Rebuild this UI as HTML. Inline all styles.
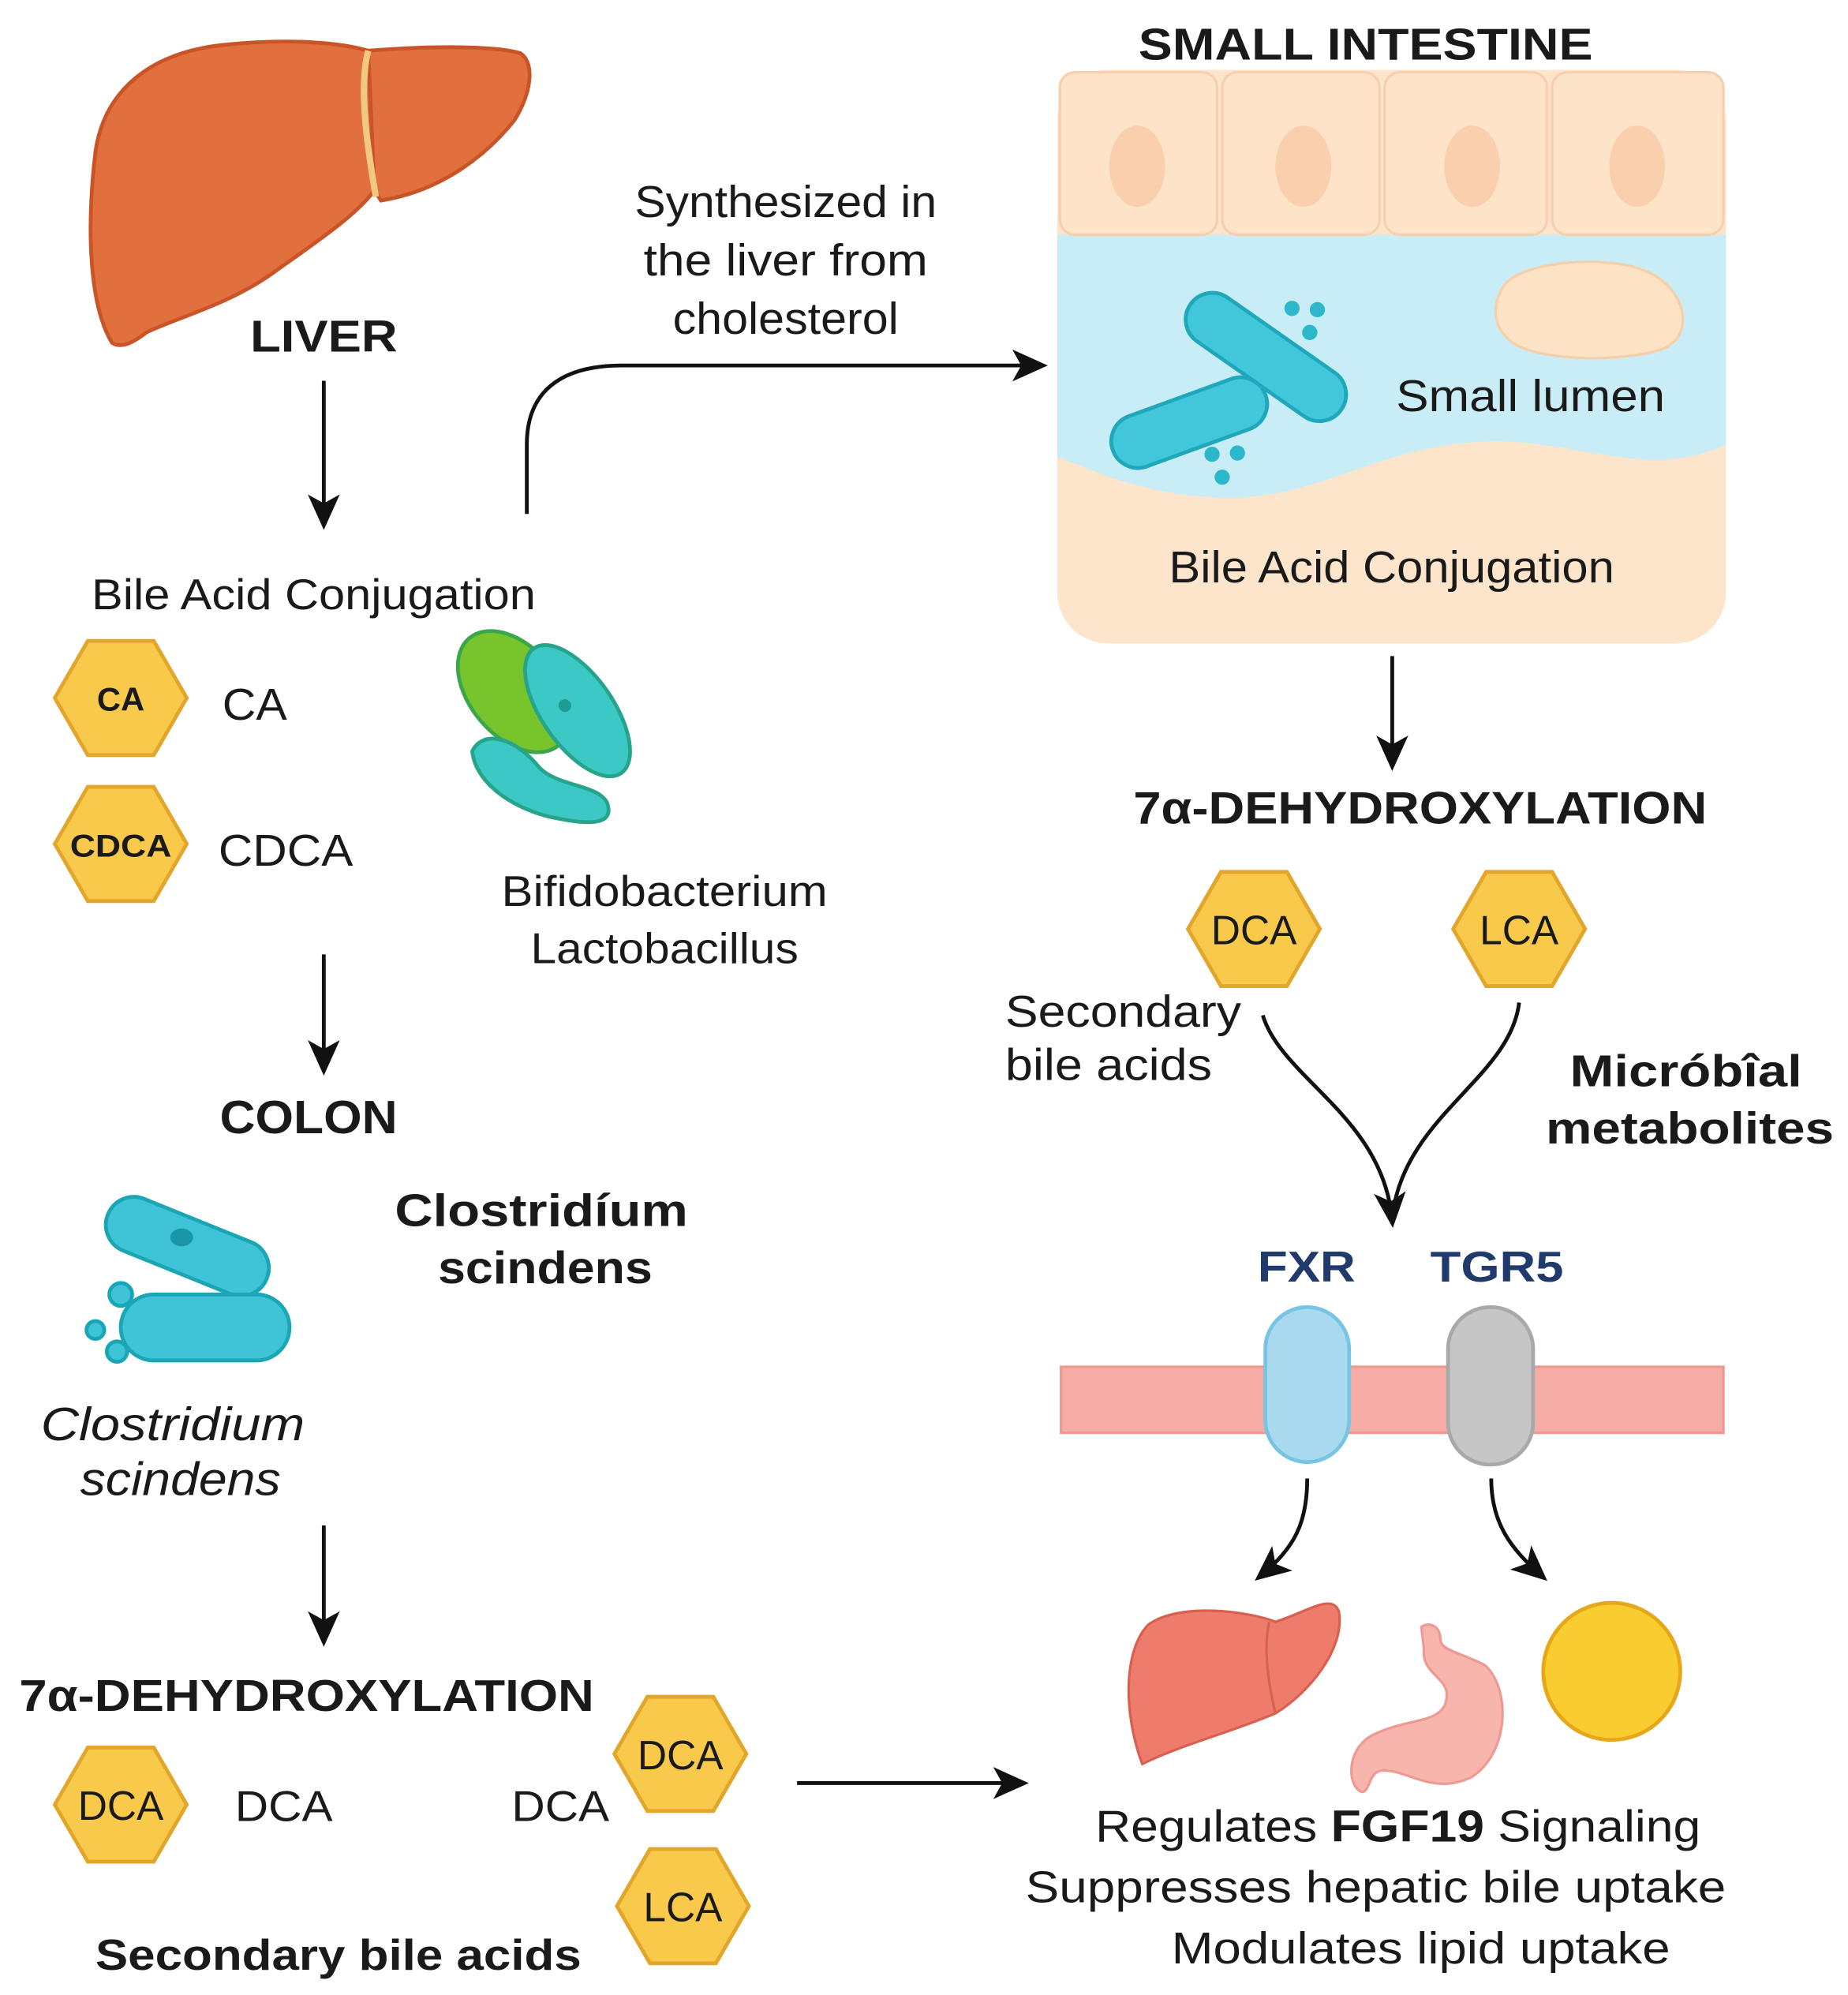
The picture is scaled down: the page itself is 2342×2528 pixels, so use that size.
<!DOCTYPE html>
<html><head><meta charset="utf-8"><style>
html,body{margin:0;padding:0;background:#fff}
svg{display:block}
text{font-family:"Liberation Sans",sans-serif;fill:#1a1a1a}
.b{font-weight:bold}
</style></head><body>
<svg width="2342" height="2528" viewBox="0 0 1456 1572" xmlns="http://www.w3.org/2000/svg">
<defs>
<marker id="ah" viewBox="0 0 10 10" refX="8" refY="5" markerWidth="28" markerHeight="28" orient="auto-start-reverse" markerUnits="userSpaceOnUse" style="overflow:visible">
<path d="M0,0.5 L10,5 L0,9.5 L2.5,5 Z" fill="#111"/></marker>
<g id="hex"><polygon points="-52,0 -26,-45 26,-45 52,0 26,45 -26,45" fill="#F8C94A" stroke="#E3A62C" stroke-width="3"/></g>
</defs>
<rect width="1456" height="1572" fill="#fff"/>

<!-- Big liver -->
<path d="M88,270 C70,240 68,180 75,120 C82,70 120,40 180,35 C230,30 270,34 290,40 L295,150 C280,170 250,190 215,215 C180,240 140,250 115,262 C105,270 95,275 88,270 Z" fill="#E2703F" stroke="#C95427" stroke-width="3"/>
<path d="M290,40 C340,36 390,36 410,42 C422,50 418,75 405,95 C385,120 350,150 300,158 L295,150 Z" fill="#E2703F" stroke="#C95427" stroke-width="3"/>
<path d="M290,40 C282,70 290,120 296,155" stroke="#F3C982" stroke-width="5" fill="none"/>
<text x="197" y="277" font-size="35" class="b" textLength="116" lengthAdjust="spacingAndGlyphs">LIVER</text>

<line x1="255" y1="300" x2="255" y2="412" stroke="#111" stroke-width="3" marker-end="url(#ah)"/>
<text x="72" y="480" font-size="34" fill="#333" textLength="350" lengthAdjust="spacingAndGlyphs">Bile Acid Conjugation</text>

<use href="#hex" x="95" y="550"/><text x="95" y="560" font-size="26" class="b" text-anchor="middle">CA</text>
<text x="175" y="567" font-size="35" textLength="51" lengthAdjust="spacingAndGlyphs">CA</text>
<use href="#hex" x="95" y="665"/><text x="95" y="675" font-size="25" class="b" text-anchor="middle" textLength="80" lengthAdjust="spacingAndGlyphs">CDCA</text>
<text x="172" y="682" font-size="35" textLength="106" lengthAdjust="spacingAndGlyphs">CDCA</text>

<!-- bifido bacteria -->
<g stroke-width="3">
<ellipse cx="405" cy="545" rx="35" ry="55" transform="rotate(-40 405 545)" fill="#78C42C" stroke="#3CA64A"/>
<ellipse cx="455" cy="560" rx="28" ry="60" transform="rotate(-35 455 560)" fill="#3CC8C4" stroke="#26A58A"/>
<path d="M372,592 C380,575 405,580 425,605 C440,620 470,618 478,632 C485,650 465,650 440,645 C410,640 375,620 372,592 Z" fill="#3CC8C4" stroke="#26A58A"/>
<circle cx="445" cy="556" r="5" fill="#1E9C94" stroke="none"/>
</g>
<text x="395" y="714" font-size="34" fill="#333" textLength="257" lengthAdjust="spacingAndGlyphs">Bifidobacterium</text>
<text x="418" y="759" font-size="34" fill="#333" textLength="211" lengthAdjust="spacingAndGlyphs">Lactobacillus</text>

<line x1="255" y1="752" x2="255" y2="842" stroke="#111" stroke-width="3" marker-end="url(#ah)"/>
<text x="173" y="893" font-size="37" class="b" textLength="140" lengthAdjust="spacingAndGlyphs">COLON</text>
<text x="311" y="966" font-size="36" class="b" textLength="231" lengthAdjust="spacingAndGlyphs">Clostridíum</text>
<text x="345" y="1011" font-size="36" class="b" textLength="169" lengthAdjust="spacingAndGlyphs">scindens</text>

<!-- colon bacteria -->
<g stroke="#1AA6B5" stroke-width="3" fill="#3EC4D6">
<rect x="80" y="960" width="135" height="44" rx="22" transform="rotate(22 147 982)"/>
<rect x="95" y="1020" width="133" height="52" rx="26"/>
<circle cx="95" cy="1020" r="9"/><circle cx="75" cy="1048" r="7"/><circle cx="92" cy="1065" r="8"/>
</g>
<ellipse cx="143" cy="975" rx="9" ry="7" fill="#1A96A8"/>
<text x="32" y="1135" font-size="37" font-style="italic" fill="#222" textLength="208" lengthAdjust="spacingAndGlyphs">Clostridium</text>
<text x="63" y="1178" font-size="37" font-style="italic" fill="#222" textLength="158" lengthAdjust="spacingAndGlyphs">scindens</text>

<line x1="255" y1="1202" x2="255" y2="1292" stroke="#111" stroke-width="3" marker-end="url(#ah)"/>
<text x="15" y="1348" font-size="35" class="b" textLength="453" lengthAdjust="spacingAndGlyphs">7α-DEHYDROXYLATION</text>
<use href="#hex" x="95" y="1422"/><text x="95" y="1434" font-size="32" text-anchor="middle">DCA</text>
<text x="185" y="1435" font-size="34" textLength="77" lengthAdjust="spacingAndGlyphs">DCA</text>
<text x="403" y="1435" font-size="34" textLength="77" lengthAdjust="spacingAndGlyphs">DCA</text>
<use href="#hex" x="536" y="1382"/><text x="536" y="1394" font-size="32" text-anchor="middle">DCA</text>
<use href="#hex" x="538" y="1502"/><text x="538" y="1514" font-size="32" text-anchor="middle">LCA</text>
<text x="75" y="1552" font-size="34" class="b" textLength="383" lengthAdjust="spacingAndGlyphs">Secondary bile acids</text>
<line x1="628" y1="1405" x2="805" y2="1405" stroke="#111" stroke-width="3" marker-end="url(#ah)"/>

<!-- curved arrow -->
<path d="M415,405 L415,350 C415,310 440,288 490,288 L820,288" fill="none" stroke="#111" stroke-width="3" marker-end="url(#ah)"/>
<text x="500" y="171" font-size="35" fill="#222" textLength="238" lengthAdjust="spacingAndGlyphs">Synthesized in</text>
<text x="507" y="217" font-size="35" fill="#222" textLength="224" lengthAdjust="spacingAndGlyphs">the liver from</text>
<text x="530" y="263" font-size="35" fill="#222" textLength="178" lengthAdjust="spacingAndGlyphs">cholesterol</text>

<!-- small intestine -->
<text x="897" y="47" font-size="35" class="b" textLength="358" lengthAdjust="spacingAndGlyphs">SMALL INTESTINE</text>
<rect x="833" y="55" width="527" height="452" rx="40" fill="#FDE5CC"/>
<path d="M833,185 L1360,185 L1360,350 C1300,380 1240,345 1170,348 C1080,352 1040,395 960,392 C900,390 860,370 833,360 Z" fill="#C8EDF6"/>
<g fill="#FDE3C8" stroke="#F7CFAE" stroke-width="2">
<rect x="835" y="57" width="124" height="128" rx="12"/>
<rect x="963" y="57" width="124" height="128" rx="12"/>
<rect x="1091" y="57" width="128" height="128" rx="12"/>
<rect x="1223" y="57" width="135" height="128" rx="12"/>
</g>
<g fill="#F9CFAE"><ellipse cx="896" cy="131" rx="22" ry="32"/><ellipse cx="1027" cy="131" rx="22" ry="32"/><ellipse cx="1160" cy="131" rx="22" ry="32"/><ellipse cx="1290" cy="131" rx="22" ry="32"/></g>
<path d="M1185,225 C1200,205 1270,200 1300,215 C1330,230 1335,265 1310,275 C1280,285 1220,285 1195,272 C1175,260 1175,240 1185,225 Z" fill="#FCE3C6" stroke="#F6CFA8" stroke-width="2"/>
<g fill="#42C6DA" stroke="#1FA7BC" stroke-width="3">
<rect x="925" y="260" width="145" height="42" rx="21" transform="rotate(35 997 281)"/>
<rect x="873" y="312" width="128" height="42" rx="21" transform="rotate(-20 937 333)"/>
</g>
<g fill="#2DB7CB"><circle cx="1018" cy="243" r="6"/><circle cx="1038" cy="244" r="6"/><circle cx="1032" cy="262" r="6"/><circle cx="955" cy="358" r="6"/><circle cx="975" cy="357" r="6"/><circle cx="963" cy="376" r="6"/></g>
<text x="1100" y="324" font-size="35" textLength="212" lengthAdjust="spacingAndGlyphs">Small lumen</text>
<text x="921" y="459" font-size="35" fill="#222" textLength="351" lengthAdjust="spacingAndGlyphs">Bile Acid Conjugation</text>

<line x1="1097" y1="517" x2="1097" y2="602" stroke="#111" stroke-width="3" marker-end="url(#ah)"/>
<text x="893" y="649" font-size="36" class="b" textLength="452" lengthAdjust="spacingAndGlyphs">7α-DEHYDROXYLATION</text>
<use href="#hex" x="988" y="732"/><text x="988" y="744" font-size="32" text-anchor="middle">DCA</text>
<use href="#hex" x="1197" y="732"/><text x="1197" y="744" font-size="32" text-anchor="middle">LCA</text>
<text x="792" y="809" font-size="35" fill="#222" textLength="186" lengthAdjust="spacingAndGlyphs">Secondary</text>
<text x="792" y="851" font-size="35" fill="#222" textLength="163" lengthAdjust="spacingAndGlyphs">bile acids</text>
<path d="M995,800 C1010,850 1090,880 1097,962" fill="none" stroke="#111" stroke-width="3" marker-end="url(#ah)"/>
<path d="M1197,790 C1190,850 1105,880 1097,960" fill="none" stroke="#111" stroke-width="3"/>
<text x="1237" y="856" font-size="35" class="b" textLength="183" lengthAdjust="spacingAndGlyphs">Micróbîal</text>
<text x="1218" y="901" font-size="35" class="b" textLength="227" lengthAdjust="spacingAndGlyphs">metabolites</text>

<text x="991" y="1010" font-size="34" class="b" style="fill:#1F3A6B" textLength="77" lengthAdjust="spacingAndGlyphs">FXR</text>
<text x="1127" y="1010" font-size="34" class="b" style="fill:#1F3A6B" textLength="105" lengthAdjust="spacingAndGlyphs">TGR5</text>
<rect x="836" y="1077" width="522" height="52" fill="#F5ACA6" stroke="#EE9890" stroke-width="2"/>
<rect x="997" y="1030" width="66" height="122" rx="33" fill="#A9D9EF" stroke="#78C4E4" stroke-width="3"/>
<rect x="1141" y="1030" width="67" height="124" rx="33" fill="#C6C6C6" stroke="#A9A9A9" stroke-width="3"/>
<path d="M1030,1165 C1030,1200 1020,1220 993,1242" fill="none" stroke="#111" stroke-width="3" marker-end="url(#ah)"/>
<path d="M1175,1165 C1175,1200 1190,1220 1215,1242" fill="none" stroke="#111" stroke-width="3" marker-end="url(#ah)"/>

<!-- organs -->
<path d="M900,1390 C885,1350 885,1300 905,1280 C930,1262 985,1270 1005,1278 C1030,1270 1050,1255 1055,1270 C1060,1300 1030,1335 1005,1350 C970,1365 930,1375 900,1390 Z" fill="#EE7C6C" stroke="#D9604F" stroke-width="2"/>
<path d="M1000,1278 C995,1300 1000,1330 1005,1350" stroke="#D9604F" stroke-width="2" fill="none"/>
<path d="M1120,1282 C1125,1278 1135,1280 1135,1292 C1135,1300 1150,1302 1170,1312 C1190,1330 1190,1380 1160,1400 C1130,1415 1110,1395 1090,1395 C1078,1395 1080,1412 1073,1412 C1062,1408 1060,1380 1080,1368 C1110,1352 1140,1360 1140,1335 C1140,1322 1120,1318 1122,1300 Z" fill="#F7B5AE" stroke="#EE9A92" stroke-width="2"/>
<circle cx="1270" cy="1317" r="54" fill="#F9CD30" stroke="#E7A71A" stroke-width="3"/>

<text x="863" y="1451" font-size="35" textLength="477" lengthAdjust="spacingAndGlyphs">Regulates <tspan font-weight="bold">FGF19</tspan> Signaling</text>
<text x="808" y="1499" font-size="35" textLength="552" lengthAdjust="spacingAndGlyphs">Suppresses hepatic bile uptake</text>
<text x="923" y="1547" font-size="35" textLength="393" lengthAdjust="spacingAndGlyphs">Modulates lipid uptake</text>
</svg>
</body></html>
